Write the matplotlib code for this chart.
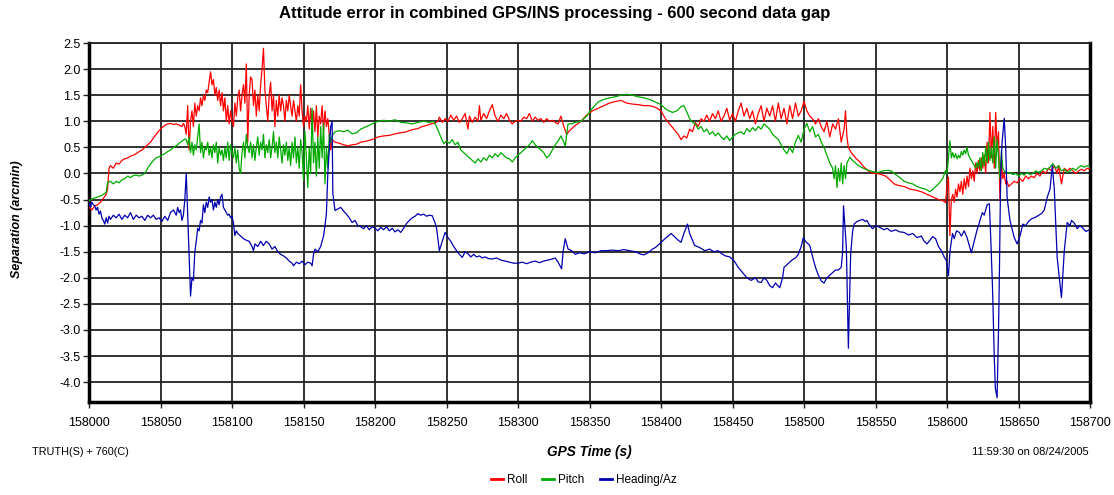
import numpy as np
import matplotlib
matplotlib.use("Agg")
import matplotlib.pyplot as plt

plt.rcParams['font.family'] = ['Liberation Sans', 'DejaVu Sans']

T0 = 158000
title = "Attitude error in combined GPS/INS processing - 600 second data gap"
x_ticks = list(range(158000, 158701, 50))
y_ticks = [-4.0, -3.5, -3.0, -2.5, -2.0, -1.5, -1.0, -0.5, 0.0, 0.5, 1.0, 1.5, 2.0, 2.5]

# (seconds after 158000, arcmin)
roll = [
    (0, -0.65), (2, -0.7), (4, -0.62), (6, -0.6), (8, -0.55), (10, -0.48), (12, -0.4), (13, -0.3),
    (14, 0.1), (15, 0.15), (17, 0.1), (19, 0.2), (21, 0.18), (23, 0.25), (25, 0.28), (27, 0.3),
    (29, 0.33), (31, 0.35), (33, 0.38), (35, 0.42), (37, 0.45), (39, 0.5), (41, 0.55), (43, 0.6),
    (45, 0.68), (47, 0.75), (49, 0.82), (51, 0.88), (53, 0.92), (55, 0.95), (57, 0.96), (59, 0.94),
    (61, 0.95), (63, 0.93), (65, 0.9), (66, 0.96), (67, 0.9), (68, 0.75), (69, 1.3), (70, 0.45),
    (71, 1.0), (72, 1.2), (73, 0.9), (74, 1.35), (75, 1.1), (76, 1.3), (77, 1.2), (78, 1.45),
    (79, 1.3), (80, 1.5), (81, 1.4), (82, 1.6), (83, 1.55), (84, 1.75), (85, 1.95), (86, 1.7),
    (87, 1.8), (88, 1.5), (89, 1.65), (90, 1.4), (91, 1.6), (92, 1.3), (93, 1.55), (94, 1.2),
    (95, 1.45), (96, 1.0), (97, 1.3), (98, 0.95), (99, 1.2), (100, 1.0), (101, 0.9), (102, 1.35),
    (103, 1.1), (104, 1.45), (105, 1.6), (106, 1.2), (107, 1.5), (108, 1.7), (109, 1.35), (110, 2.1),
    (111, 0.6), (112, 1.5), (113, 1.85), (114, 1.8), (115, 1.3), (116, 1.6), (117, 1.1), (118, 1.5),
    (119, 1.2), (120, 1.7), (121, 2.0), (122, 2.4), (123, 1.6), (124, 1.3), (125, 1.0), (126, 1.5),
    (127, 1.75), (128, 1.2), (129, 1.5), (130, 0.9), (131, 1.4), (132, 1.1), (133, 1.5), (134, 1.2),
    (135, 1.45), (136, 1.3), (137, 1.0), (138, 1.4), (139, 1.2), (140, 1.5), (141, 1.3), (142, 1.1),
    (143, 1.4), (144, 1.2), (145, 1.0), (146, 1.3), (147, 1.1), (148, 1.7), (149, 1.2), (150, 0.9),
    (151, 1.1), (152, 1.0), (153, 1.3), (154, 0.85), (155, 1.25), (156, 0.9), (157, 1.2), (158, 0.8),
    (159, 1.3), (160, 0.7), (161, 1.1), (162, 0.95), (163, 1.3), (164, 0.8), (165, 1.2), (166, 0.9),
    (167, 1.05), (168, 0.75), (169, 0.45), (170, 0.65), (172, 0.6), (175, 0.58), (178, 0.55),
    (181, 0.53), (184, 0.55), (187, 0.56), (190, 0.6), (194, 0.62), (198, 0.65), (202, 0.7),
    (206, 0.72), (210, 0.73), (214, 0.76), (218, 0.78), (222, 0.8), (226, 0.84), (230, 0.86),
    (233, 0.9), (236, 0.92), (239, 0.95), (242, 0.97), (244, 1.0), (245, 1.08), (247, 0.98),
    (249, 1.05), (251, 1.0), (253, 1.12), (255, 1.02), (257, 1.1), (259, 0.98), (261, 1.05),
    (263, 1.15), (265, 0.85), (266, 1.1), (268, 0.98), (270, 1.08), (272, 1.0), (273, 1.3),
    (274, 1.02), (276, 1.15), (278, 1.05), (280, 1.2), (282, 1.32), (284, 1.1), (286, 1.0),
    (288, 1.12), (290, 1.05), (292, 1.15), (294, 1.02), (296, 0.95), (298, 1.0), (300, 1.02),
    (302, 1.0), (304, 1.08), (306, 1.05), (308, 1.15), (310, 1.0), (312, 1.08), (314, 1.02),
    (316, 1.05), (318, 0.98), (320, 1.05), (322, 1.0), (324, 1.02), (326, 0.98), (328, 0.95),
    (330, 1.1), (332, 0.9), (334, 0.75), (336, 0.82), (340, 0.92), (344, 1.0), (348, 1.12),
    (352, 1.2), (356, 1.25), (360, 1.3), (364, 1.35), (368, 1.38), (372, 1.4), (376, 1.35),
    (380, 1.33), (384, 1.32), (388, 1.3), (392, 1.3), (396, 1.27), (400, 1.2), (403, 1.05),
    (406, 0.95), (409, 0.85), (412, 0.75), (414, 0.65), (416, 0.72), (418, 0.68), (420, 0.85),
    (422, 0.8), (424, 0.98), (426, 0.9), (428, 1.05), (430, 1.0), (432, 1.12), (434, 1.0),
    (436, 1.15), (438, 1.05), (440, 1.2), (442, 1.0), (444, 1.1), (446, 1.25), (448, 1.02),
    (450, 1.15), (452, 1.0), (454, 1.2), (456, 1.35), (458, 1.1), (460, 1.25), (462, 1.05),
    (464, 1.2), (466, 0.95), (468, 1.15), (470, 1.3), (472, 1.0), (474, 1.25), (476, 1.1),
    (478, 1.3), (480, 1.0), (482, 1.35), (484, 1.05), (486, 1.25), (488, 0.95), (490, 1.3),
    (492, 1.05), (494, 1.35), (496, 1.1), (498, 1.2), (500, 1.38), (502, 1.2), (504, 1.1),
    (506, 1.05), (508, 0.95), (510, 1.05), (512, 0.9), (514, 0.8), (516, 1.0), (518, 0.7),
    (520, 0.95), (522, 0.85), (524, 1.05), (526, 0.6), (528, 0.85), (529, 1.2), (530, 0.7),
    (531, 0.5), (533, 0.4), (536, 0.3), (539, 0.22), (542, 0.12), (545, 0.05), (548, 0.0),
    (551, 0.0), (554, -0.02), (557, -0.05), (560, -0.12), (563, -0.2), (566, -0.23), (570, -0.25),
    (574, -0.3), (578, -0.32), (582, -0.35), (586, -0.4), (590, -0.45), (594, -0.5), (597, -0.52),
    (599, -0.56), (600, -0.2), (601, -0.07), (602, -1.19), (603, -0.5), (604, -0.4), (605, -0.55),
    (606, -0.3), (607, -0.45), (608, -0.2), (609, -0.35), (610, -0.15), (611, -0.4), (612, -0.1),
    (613, -0.3), (614, -0.05), (615, -0.25), (616, 0.1), (617, -0.1), (618, 0.05), (619, -0.15),
    (620, 0.2), (621, 0.0), (622, 0.25), (623, 0.05), (624, 0.3), (625, 0.1), (626, 0.35),
    (627, 0.0), (628, 0.6), (629, 0.2), (630, 1.17), (631, 0.3), (632, 0.9), (633, 0.1),
    (634, 1.17), (635, 0.5), (636, 0.8), (637, -0.52), (638, 0.2), (639, -0.1), (640, 0.0),
    (641, -0.2), (642, -0.15), (643, -0.25), (645, -0.2), (647, -0.15), (649, -0.18), (651, -0.1),
    (653, -0.15), (655, -0.05), (657, -0.1), (659, -0.05), (661, -0.08), (663, 0.0), (665, -0.05),
    (667, 0.05), (669, 0.0), (671, 0.1), (673, 0.05), (675, 0.15), (677, 0.0), (678, 0.15),
    (680, -0.2), (682, 0.1), (684, 0.05), (686, 0.1), (688, 0.05), (690, 0.0), (692, 0.05),
    (694, 0.08), (696, 0.05), (698, 0.1), (700, 0.08),
]

pitch = [
    (0, -0.52), (3, -0.48), (6, -0.45), (9, -0.42), (12, -0.36), (13, -0.17), (15, -0.15),
    (17, -0.2), (19, -0.15), (21, -0.18), (23, -0.12), (25, -0.1), (27, -0.05), (29, -0.08),
    (31, -0.04), (33, -0.03), (35, -0.05), (37, -0.03), (39, 0.0), (41, 0.1), (43, 0.18),
    (45, 0.25), (47, 0.3), (49, 0.32), (51, 0.35), (53, 0.38), (55, 0.42), (57, 0.45), (59, 0.5),
    (61, 0.53), (63, 0.58), (65, 0.62), (67, 0.66), (68, 0.65), (69, 0.55), (70, 0.7), (71, 0.4),
    (72, 0.6), (73, 0.35), (74, 0.55), (75, 0.45), (76, 0.7), (77, 0.95), (78, 0.4), (79, 0.6),
    (80, 0.3), (81, 0.5), (82, 0.45), (83, 0.6), (84, 0.35), (85, 0.5), (86, 0.3), (87, 0.55),
    (88, 0.4), (89, 0.6), (90, 0.2), (91, 0.5), (92, 0.35), (93, 0.45), (94, 0.25), (95, 0.5),
    (96, 0.3), (97, 0.6), (98, 0.25), (99, 0.55), (100, 0.4), (101, 0.3), (102, 0.5), (103, 0.2),
    (104, 0.45), (105, 0.1), (106, 0.0), (107, 0.4), (108, 0.6), (109, 0.3), (110, 0.75),
    (111, 0.5), (112, 0.4), (113, 0.6), (114, 0.3), (115, 0.55), (116, 0.25), (117, 0.5),
    (118, 0.7), (119, 0.35), (120, 0.6), (121, 0.45), (122, 0.75), (123, 0.3), (124, 0.55),
    (125, 0.4), (126, 0.65), (127, 0.3), (128, 0.5), (129, 0.8), (130, 0.4), (131, 0.6),
    (132, 0.3), (133, 0.7), (134, 0.45), (135, 0.2), (136, 0.55), (137, 0.35), (138, 0.6),
    (139, 0.25), (140, 0.5), (141, 0.15), (142, 0.6), (143, 0.3), (144, 0.7), (145, 0.2),
    (146, 0.5), (147, 0.1), (148, 0.65), (149, 0.4), (150, -0.13), (151, 0.8), (152, 0.3),
    (153, -0.27), (154, 0.5), (155, 0.0), (156, 1.25), (157, 0.2), (158, 0.6), (159, -0.05),
    (160, 0.7), (161, 0.1), (162, 0.9), (163, 0.3), (164, 0.96), (165, -0.2), (166, 0.5),
    (167, 0.1), (168, 0.75), (169, 0.6), (170, 0.72), (172, 0.8), (175, 0.82), (178, 0.8),
    (181, 0.83), (184, 0.76), (187, 0.78), (190, 0.85), (194, 0.9), (198, 0.95), (202, 1.0),
    (206, 1.02), (210, 1.0), (214, 1.03), (218, 0.98), (222, 0.97), (226, 0.95), (230, 0.98),
    (234, 1.0), (238, 0.98), (241, 1.0), (243, 0.9), (244, 0.83), (246, 0.7), (248, 0.57),
    (250, 0.62), (252, 0.58), (254, 0.65), (256, 0.55), (258, 0.6), (260, 0.45), (262, 0.4),
    (264, 0.35), (266, 0.3), (268, 0.25), (270, 0.2), (272, 0.28), (274, 0.22), (276, 0.3),
    (278, 0.25), (280, 0.35), (282, 0.3), (284, 0.38), (286, 0.32), (288, 0.4), (290, 0.35),
    (292, 0.3), (294, 0.28), (296, 0.22), (298, 0.3), (300, 0.35), (302, 0.4), (304, 0.45),
    (306, 0.5), (308, 0.55), (310, 0.63), (312, 0.55), (314, 0.5), (316, 0.45), (318, 0.4),
    (320, 0.3), (322, 0.35), (324, 0.45), (326, 0.55), (328, 0.62), (330, 0.72), (332, 0.6),
    (333, 0.52), (335, 0.95), (337, 0.95), (340, 0.98), (344, 1.0), (348, 1.1), (352, 1.25),
    (356, 1.37), (360, 1.42), (364, 1.45), (368, 1.47), (372, 1.5), (376, 1.52), (380, 1.5),
    (384, 1.47), (388, 1.45), (392, 1.42), (396, 1.37), (400, 1.32), (404, 1.22), (408, 1.17),
    (411, 1.2), (414, 1.28), (416, 1.3), (418, 1.18), (420, 1.05), (422, 0.98), (424, 0.95),
    (426, 0.85), (428, 0.9), (430, 0.8), (432, 0.85), (434, 0.75), (436, 0.8), (438, 0.72),
    (440, 0.78), (442, 0.7), (444, 0.65), (446, 0.72), (448, 0.63), (450, 0.7), (452, 0.75),
    (454, 0.78), (456, 0.8), (458, 0.75), (460, 0.86), (462, 0.8), (464, 0.88), (466, 0.82),
    (468, 0.9), (470, 0.85), (472, 0.95), (474, 0.9), (476, 0.85), (478, 0.75), (480, 0.7),
    (482, 0.65), (484, 0.55), (486, 0.45), (488, 0.38), (490, 0.5), (492, 0.4), (494, 0.6),
    (496, 0.73), (498, 0.6), (500, 0.85), (502, 0.96), (504, 0.8), (506, 0.9), (508, 0.7),
    (510, 0.75), (512, 0.6), (514, 0.5), (516, 0.35), (518, 0.2), (520, 0.1), (521, -0.1),
    (522, 0.15), (523, -0.27), (524, 0.1), (525, -0.15), (526, 0.2), (527, -0.2), (528, 0.15),
    (529, -0.1), (530, 0.2), (532, 0.31), (534, 0.25), (536, 0.2), (538, 0.15), (540, 0.12),
    (543, 0.08), (546, 0.05), (549, 0.03), (552, 0.02), (555, 0.05), (558, 0.06), (561, 0.05),
    (564, -0.02), (567, -0.08), (570, -0.15), (573, -0.18), (576, -0.2), (579, -0.25),
    (582, -0.28), (585, -0.3), (588, -0.35), (591, -0.28), (594, -0.2), (597, -0.1), (599, 0.06),
    (600, 0.0), (601, 0.3), (602, 0.63), (603, 0.3), (604, 0.4), (605, 0.3), (606, 0.38),
    (607, 0.28), (608, 0.35), (609, 0.3), (610, 0.42), (611, 0.35), (612, 0.45), (613, 0.38),
    (614, 0.5), (615, 0.35), (616, 0.3), (617, 0.25), (618, 0.2), (619, 0.15), (620, 0.1),
    (621, 0.21), (622, 0.1), (623, 0.3), (624, 0.05), (625, 0.4), (626, 0.15), (627, 0.5),
    (628, 0.2), (629, 0.6), (630, 0.25), (631, 0.5), (632, 0.2), (633, 0.7), (634, 0.1),
    (635, 0.65), (636, 0.3), (637, -0.1), (638, 0.44), (639, 0.1), (640, 0.05), (642, 0.0),
    (644, 0.02), (646, -0.02), (648, 0.0), (650, -0.05), (652, 0.0), (654, -0.03), (656, 0.02),
    (658, -0.02), (660, 0.0), (662, 0.05), (664, 0.02), (666, 0.05), (668, 0.1), (670, 0.08),
    (672, 0.12), (674, 0.19), (676, 0.1), (678, 0.15), (680, 0.05), (682, 0.08), (684, 0.02),
    (686, 0.05), (688, 0.1), (690, 0.06), (692, 0.12), (694, 0.15), (696, 0.12), (698, 0.15),
    (700, 0.13),
]

heading = [
    (0, -0.55), (1, -0.65), (2, -0.55), (3, -0.6), (4, -0.62), (5, -0.7), (6, -0.65), (7, -0.78),
    (8, -0.72), (9, -0.85), (10, -0.9), (11, -0.97), (12, -0.85), (13, -0.95), (14, -0.82),
    (15, -0.88), (17, -0.8), (19, -0.85), (21, -0.78), (23, -0.88), (25, -0.8), (27, -0.85),
    (29, -0.75), (31, -0.88), (33, -0.8), (35, -0.85), (37, -0.82), (39, -0.9), (41, -0.8),
    (43, -0.85), (45, -0.8), (47, -0.88), (49, -0.85), (51, -0.92), (53, -0.82), (55, -0.9),
    (57, -0.75), (59, -0.7), (61, -0.8), (62, -0.65), (63, -0.75), (64, -0.7), (65, -0.9),
    (66, -0.8), (67, -0.5), (68, 0.0), (69, -0.8), (70, -1.6), (71, -2.35), (72, -2.0),
    (73, -2.05), (74, -1.5), (75, -1.3), (76, -1.05), (77, -1.1), (78, -0.9), (79, -0.95),
    (80, -0.6), (81, -0.75), (82, -0.55), (83, -0.65), (84, -0.45), (85, -0.55), (86, -0.5),
    (87, -0.7), (88, -0.55), (89, -0.65), (90, -0.5), (91, -0.6), (92, -0.45), (93, -0.4),
    (94, -0.65), (95, -0.7), (96, -0.75), (97, -0.8), (98, -0.78), (99, -0.85), (100, -0.82),
    (101, -0.95), (102, -1.19), (103, -1.1), (104, -1.15), (106, -1.2), (108, -1.25),
    (110, -1.28), (112, -1.3), (114, -1.4), (115, -1.48), (116, -1.35), (118, -1.4), (120, -1.3),
    (122, -1.38), (124, -1.3), (126, -1.35), (128, -1.45), (130, -1.4), (132, -1.5), (134, -1.55),
    (136, -1.58), (138, -1.62), (140, -1.68), (142, -1.72), (143, -1.77), (145, -1.7),
    (147, -1.73), (149, -1.68), (151, -1.75), (153, -1.7), (155, -1.72), (156, -1.77),
    (157, -1.55), (158, -1.45), (160, -1.5), (162, -1.4), (163, -1.3), (164, -1.2), (165, -1.0),
    (166, -0.77), (167, 0.0), (169, 0.9), (170, 1.0), (170.5, -0.38), (172, -0.71), (174, -0.68),
    (176, -0.65), (178, -0.72), (180, -0.78), (182, -0.85), (184, -0.94), (186, -0.9),
    (188, -1.0), (190, -1.02), (192, -1.06), (194, -1.0), (196, -1.08), (198, -1.02),
    (200, -1.05), (202, -1.1), (204, -1.03), (206, -1.08), (208, -1.02), (210, -1.1),
    (212, -1.05), (214, -1.12), (216, -1.08), (218, -1.13), (220, -1.05), (222, -0.96),
    (224, -0.9), (226, -0.85), (228, -0.82), (230, -0.77), (232, -0.8), (234, -0.78),
    (236, -0.82), (238, -0.8), (240, -0.81), (242, -0.95), (243, -1.04), (245, -1.48),
    (247, -1.3), (249, -1.13), (251, -1.23), (253, -1.3), (255, -1.4), (257, -1.48),
    (259, -1.55), (261, -1.61), (263, -1.5), (265, -1.54), (267, -1.6), (269, -1.55),
    (271, -1.6), (273, -1.58), (275, -1.62), (277, -1.6), (279, -1.63), (282, -1.64),
    (285, -1.62), (288, -1.66), (291, -1.68), (294, -1.7), (297, -1.72), (300, -1.72),
    (303, -1.7), (306, -1.73), (309, -1.7), (312, -1.68), (315, -1.71), (318, -1.68),
    (321, -1.66), (324, -1.64), (326, -1.62), (328, -1.7), (330.5, -1.83), (331.5, -1.5),
    (333, -1.25), (335, -1.45), (337.5, -1.48), (340, -1.55), (343, -1.52), (346.5, -1.54),
    (350, -1.5), (354, -1.52), (358, -1.48), (362, -1.48), (366, -1.47), (370, -1.48),
    (374, -1.46), (378, -1.48), (382, -1.5), (386, -1.55), (388, -1.56), (391, -1.52),
    (394, -1.45), (396, -1.42), (399, -1.35), (402, -1.27), (405, -1.2), (407, -1.15),
    (409, -1.2), (412, -1.28), (414, -1.32), (416, -1.15), (418.5, -0.97), (420, -1.15),
    (423.5, -1.38), (427, -1.42), (430.5, -1.48), (434, -1.45), (437, -1.5), (440, -1.48),
    (442, -1.53), (445, -1.58), (448, -1.6), (451, -1.67), (454, -1.8), (457, -1.9),
    (460, -2.0), (463, -2.05), (466, -2.0), (468, -2.08), (470, -2.09), (472, -2.0),
    (474, -2.05), (476, -2.15), (478, -2.19), (480, -2.1), (483, -2.19), (485, -2.0),
    (486, -1.8), (488, -1.75), (490, -1.7), (492, -1.65), (494, -1.62), (496, -1.55),
    (498, -1.4), (499.5, -1.23), (501, -1.3), (504, -1.38), (506, -1.6), (508, -1.8),
    (510, -1.95), (512, -2.06), (514, -2.1), (516, -2.0), (518, -1.95), (520, -1.9),
    (522, -1.85), (524, -1.85), (526, -1.8), (527, -1.5), (527.6, -0.62), (529, -1.2),
    (529.6, -1.42), (531, -3.35), (532.6, -1.55), (534, -1.1), (535, -0.97), (537, -0.92),
    (539, -0.9), (541, -0.88), (543, -0.92), (544, -0.9), (546, -1.0), (548, -1.06),
    (550, -1.0), (552, -1.02), (554, -1.05), (556, -1.08), (558, -1.05), (561, -1.11),
    (564, -1.08), (567, -1.12), (570, -1.13), (573, -1.18), (576, -1.15), (579, -1.23),
    (582, -1.2), (584, -1.3), (586, -1.35), (588, -1.28), (590, -1.21), (592, -1.25),
    (594, -1.4), (596, -1.48), (598, -1.6), (599.5, -1.67), (601, -1.96), (602, -1.5),
    (603.8, -1.15), (605, -1.25), (606.6, -1.1), (608.6, -1.13), (610, -1.2), (612, -1.1),
    (614, -1.23), (617, -1.52), (619, -1.3), (621, -1.08), (622, -1.0), (623, -0.9),
    (624.7, -0.75), (626, -0.8), (628, -0.6), (629.6, -0.58), (630.5, -1.2), (631.8, -2.19),
    (633, -3.5), (633.8, -4.12), (635, -4.3), (636, -3.0), (636.6, -1.93), (637.5, 0.0),
    (638.5, 0.6), (640, 1.06), (641, 0.5), (642, -0.46), (644, -0.9), (647, -1.23),
    (649, -1.35), (651, -1.2), (653, -0.97), (655, -1.0), (657, -0.92), (659, -0.87),
    (661, -0.85), (663, -0.82), (666, -0.77), (668, -0.7), (670, -0.46), (672, -0.3),
    (673.6, 0.15), (675, -0.3), (677, -1.61), (680, -2.38), (682, -1.48), (684, -0.94),
    (686, -1.0), (687, -0.9), (689, -0.95), (691, -1.06), (693, -1.0), (695, -1.05),
    (697, -1.11), (700, -1.08),
]

series = [("Roll", roll, "#ff0000"), ("Pitch", pitch, "#00aa00"), ("Heading/Az", heading, "#0000b0")]

fig = plt.figure(figsize=(11.14, 4.95), dpi=100)
ax = fig.add_axes([0.0799, 0.188, 0.8986, 0.725])

for name, pts, col in series:
    arr = np.array(pts)
    ax.plot(T0 + arr[:, 0], arr[:, 1], color=col, lw=0.9, label=name, zorder=3)

ax.set_xlim(158000, 158700)
ax.set_ylim(-4.38, 2.5)
ax.set_xticks(x_ticks)
ax.set_xticklabels([str(v) for v in x_ticks], fontsize=9)
ax.set_yticks(y_ticks)
ax.set_yticklabels(["%.1f" % v for v in y_ticks], fontsize=9)
ax.grid(True, color="#222222", lw=1.3, zorder=1)
ax.tick_params(direction="out", length=4, width=1, color="#222222", pad=2)
ax.tick_params(axis="x", pad=7)
for side in ["left", "bottom", "right"]:
    ax.spines[side].set_linewidth(2.5)
    ax.spines[side].set_color("black")
ax.spines["top"].set_linewidth(1.3)
ax.spines["top"].set_color("#222222")

fig.text(0.498, 0.973, title, ha="center", va="center", fontsize=12, fontweight="bold")
ax.set_ylabel("Separation (arcmin)", fontsize=9, fontweight="bold", style="italic")
ax.yaxis.set_label_coords(-0.066, 0.51)
fig.text(0.529, 0.086, "GPS Time (s)", ha="center", va="center", fontsize=9.8,
         fontweight="bold", style="italic")
fig.text(0.029, 0.086, "TRUTH(S) + 760(C)", ha="left", va="center", fontsize=7.8)
fig.text(0.977, 0.086, "11:59:30 on 08/24/2005", ha="right", va="center", fontsize=8)

leg = fig.legend(loc="center", bbox_to_anchor=(0.524, 0.03), ncol=3, frameon=False, fontsize=8.5,
                 handlelength=1.0, handletextpad=0.35, columnspacing=1.3)
for h in leg.get_lines():
    h.set_linewidth(2)

fig.savefig("out.png", dpi=100)
